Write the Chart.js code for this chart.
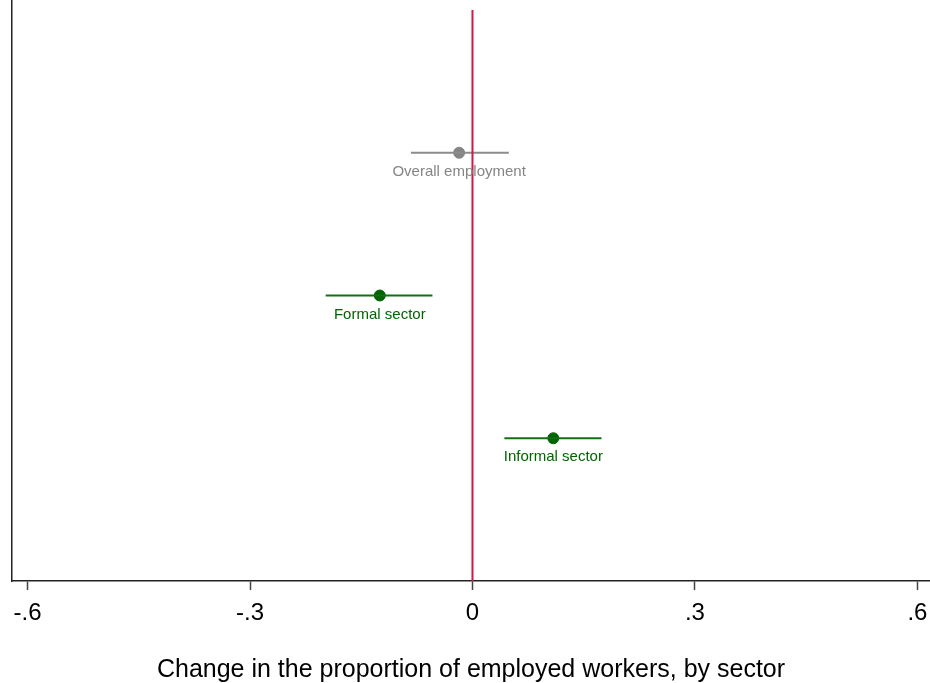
<!DOCTYPE html>
<html lang="en">

<head>
    <meta charset="UTF-8">
    <title>Change in employment by sector</title>
    <script src="https://cdn.jsdelivr.net/npm/chart.js"></script>
    <style>
        body { margin: 0; background: #fff; }
        canvas { display: block; }
    </style>
</head>

<body>
    <canvas id="coefChart" width="930" height="683"></canvas>
    <script>
        // Estimates and 95% intervals, one row per sector
        const categories = ['Overall employment', 'Formal sector', 'Informal sector'];
        const estimates = [-0.018, -0.125, 0.109];
        const ciLow = [-0.083, -0.198, 0.043];
        const ciHigh = [0.049, -0.054, 0.174];
        const rowPositions = [1, 2, 3];

        const xTicks = [-0.6, -0.3, 0, 0.3, 0.6];
        const xTickLabels = ['-.6', '-.3', '0', '.3', '.6'];

        const rowColors = ['#858585', '#006400', '#006400'];
        const lineColors = ['#8c8c8c', '#127012', '#127012'];

        const fontFamily = '"Liberation Sans", Arial, sans-serif';

        const datasets = [];

        // reference line at zero
        datasets.push({
            type: 'line',
            data: [{ x: 0, y: 0 }, { x: 0, y: 4 }],
            borderColor: '#d2164a',
            borderWidth: 2,
            pointRadius: 0
        });

        categories.forEach((name, i) => {
            datasets.push({
                type: 'line',
                data: [{ x: ciLow[i], y: rowPositions[i] }, { x: ciHigh[i], y: rowPositions[i] }],
                borderColor: lineColors[i],
                borderWidth: 2,
                pointRadius: 0
            });
            datasets.push({
                type: 'scatter',
                label: name,
                data: [{ x: estimates[i], y: rowPositions[i] }],
                backgroundColor: rowColors[i],
                borderColor: rowColors[i],
                pointRadius: 5.5
            });
        });

        // text under each point
        const pointLabels = {
            id: 'pointLabels',
            afterDatasetsDraw(chart) {
                const ctx = chart.ctx;
                const xs = chart.scales.x, ys = chart.scales.y;
                ctx.save();
                ctx.font = '15px ' + fontFamily;
                ctx.textAlign = 'center';
                ctx.textBaseline = 'middle';
                categories.forEach((name, i) => {
                    ctx.fillStyle = rowColors[i];
                    ctx.fillText(name, xs.getPixelForValue(estimates[i]), ys.getPixelForValue(rowPositions[i]) + 19);
                });
                ctx.restore();
            }
        };

        new Chart(document.getElementById('coefChart'), {
            type: 'scatter',
            data: { datasets: datasets },
            options: {
                responsive: false,
                animation: false,
                layout: { autoPadding: false, padding: { left: 12, right: 0, top: 0, bottom: 0 } },
                plugins: {
                    legend: { display: false },
                    tooltip: { enabled: false }
                },
                scales: {
                    x: {
                        type: 'linear',
                        min: -0.621,
                        max: 0.617,
                        afterBuildTicks: scale => {
                            scale.ticks = xTicks.map(v => ({ value: v }));
                        },
                        afterFit: scale => {
                            scale.height = 102;
                            scale.paddingLeft = 0;
                            scale.paddingRight = 0;
                        },
                        ticks: {
                            color: '#000',
                            font: { size: 24, family: fontFamily },
                            padding: 9,
                            maxRotation: 0,
                            callback: (value, index) => xTickLabels[index]
                        },
                        grid: {
                            drawOnChartArea: false,
                            tickLength: 9,
                            tickWidth: 1.5,
                            color: '#444'
                        },
                        border: { display: true, color: '#222', width: 1.5 },
                        title: {
                            display: true,
                            text: 'Change in the proportion of employed workers, by sector',
                            color: '#000',
                            font: { size: 25, family: fontFamily },
                            padding: { top: 4, bottom: -2 }
                        }
                    },
                    y: {
                        type: 'linear',
                        reverse: true,
                        min: -0.07,
                        max: 4,
                        afterFit: scale => {
                            scale.width = 0;
                            scale.paddingTop = 0;
                            scale.paddingBottom = 0;
                        },
                        ticks: { display: false },
                        grid: { display: false },
                        border: { display: true, color: '#222', width: 1.5 }
                    }
                }
            },
            plugins: [pointLabels]
        });
    </script>
</body>

</html>
